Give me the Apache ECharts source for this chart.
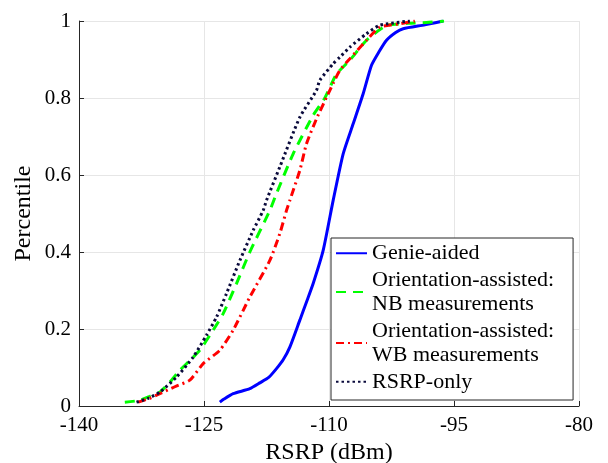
<!DOCTYPE html>
<html>
<head>
<meta charset="utf-8">
<script src="https://cdn.jsdelivr.net/npm/echarts@6/dist/echarts.min.js"></script>
<style>
  html, body { margin: 0; padding: 0; background: #fff; }
  #chart_1 { width: 608px; height: 463px; }
</style>
</head>
<body>
<div id="chart_1"></div>
<script>
//*************************************************************************************************data
// series names (legend)
var names = ['Genie-aided', 'Orientation-assisted: NB measurements', 'Orientation-assisted: WB measurements', 'RSRP-only'];
var legend_text = ['Genie-aided', 'Orientation-assisted:\nNB measurements', 'Orientation-assisted:\nWB measurements', 'RSRP-only'];

// x ticks
var x_ticks = [-140, -125, -110, -95, -80];

// genie-aided (RSRP dBm, percentile)
var genie_x = [-123.1, -122.6, -121.5, -119.5, -118.3, -117.2, -116.3, -115.5, -114.7, -113.5, -112.7, -111.9, -110.7, -109.5, -108.3, -107.1, -105.9, -104.9, -104.0, -103.1, -102.0, -101.1, -98.5, -96.3];
var genie_y = [0.01, 0.018, 0.032, 0.045, 0.06, 0.075, 0.097, 0.12, 0.153, 0.223, 0.27, 0.318, 0.404, 0.534, 0.655, 0.733, 0.811, 0.885, 0.92, 0.95, 0.97, 0.98, 0.99, 1.0];

// orientation-assisted NB
var nb_x = [-134.5, -132.9, -131.5, -130.3, -129.1, -127.9, -126.7, -125.5, -123.9, -122.7, -121.1, -119.5, -117.1, -116.3, -114.3, -111.9, -110.5, -109.1, -107.5, -105.5, -103.1, -100.5, -98.3, -96.2];
var nb_y = [0.01, 0.014, 0.025, 0.036, 0.062, 0.093, 0.118, 0.145, 0.197, 0.24, 0.318, 0.4, 0.508, 0.552, 0.655, 0.755, 0.8, 0.862, 0.898, 0.95, 0.988, 0.994, 0.996, 1.0];

// orientation-assisted WB
var wb_x = [-132.9, -131.5, -130.3, -128.5, -126.7, -125.1, -123.1, -121.5, -119.5, -117.1, -115.9, -115.1, -114.7, -113.5, -112.7, -111.5, -109.9, -109.5, -108.7, -107.5, -105.5, -103.9, -101.5, -99.7];
var wb_y = [0.01, 0.02, 0.032, 0.05, 0.067, 0.11, 0.145, 0.197, 0.283, 0.378, 0.448, 0.508, 0.534, 0.612, 0.681, 0.746, 0.82, 0.838, 0.872, 0.902, 0.95, 0.984, 0.993, 1.0];

// RSRP-only
var rsrp_x = [-133.1, -131.7, -130.3, -128.3, -126.3, -124.7, -123.5, -122.3, -120.7, -119.1, -117.9, -117.5, -115.9, -113.5, -111.5, -111.1, -109.5, -108.7, -107.5, -105.5, -103.9, -100.3];
var rsrp_y = [0.01, 0.02, 0.036, 0.075, 0.127, 0.184, 0.231, 0.292, 0.378, 0.456, 0.508, 0.534, 0.621, 0.75, 0.82, 0.846, 0.889, 0.906, 0.932, 0.967, 0.989, 1.0];

//*************************************************************************************************draw
var font = '"Liberation Serif", "Times New Roman", serif';
var axis_color = '#262626';
var grid_color = '#e6e6e6';

function pairs(xs, ys) {
    var out = [];
    for (var i = 0; i < xs.length; i++) {
        out.push([xs[i], ys[i]]);
    }
    return out;
}

function make_series(name, xs, ys, color, dash) {
    return {
        name: name,
        type: 'line',
        symbol: 'none',
        smooth: 0.2,
        data: pairs(xs, ys),
        lineStyle: { color: color, width: 3, type: dash, cap: 'butt' },
        itemStyle: { color: color }
    };
}

var chart_1 = echarts.init(document.getElementById('chart_1'));

var option = {
    animation: false,
    backgroundColor: '#fff',
    grid: { left: 79, right: 29, top: 21, bottom: 57, outerBoundsMode: 'none' },
    xAxis: {
        type: 'value',
        min: x_ticks[0],
        max: x_ticks[x_ticks.length - 1],
        interval: x_ticks[1] - x_ticks[0],
        name: 'RSRP (dBm)',
        nameLocation: 'middle',
        nameGap: 35,
        nameMoveOverlap: false,
        nameTextStyle: { fontFamily: font, fontSize: 24, color: '#000' },
        axisLine: { lineStyle: { color: axis_color, width: 1 } },
        axisTick: { inside: true, length: 5, lineStyle: { color: axis_color } },
        axisLabel: { fontFamily: font, fontSize: 21, color: '#000', margin: 9 },
        splitLine: { show: true, lineStyle: { color: grid_color, width: 1 } }
    },
    yAxis: {
        type: 'value',
        min: 0,
        max: 1,
        interval: 0.2,
        name: 'Percentile',
        nameLocation: 'middle',
        nameGap: 43,
        nameMoveOverlap: false,
        nameTextStyle: { fontFamily: font, fontSize: 24, color: '#000' },
        axisLine: { show: true, lineStyle: { color: axis_color, width: 1 } },
        axisTick: { show: true, inside: true, length: 5, lineStyle: { color: axis_color } },
        axisLabel: { fontFamily: font, fontSize: 21, color: '#000', margin: 8 },
        splitLine: { show: true, lineStyle: { color: grid_color, width: 1 } }
    },
    legend: {
        data: names,
        orient: 'vertical',
        left: 331,
        top: 238,
        itemWidth: 31,
        itemHeight: 12,
        itemGap: 2,
        padding: [3, 19, 6, 4],
        borderColor: axis_color,
        borderWidth: 1,
        backgroundColor: '#fff',
        itemStyle: { opacity: 0 },
        textStyle: { fontFamily: font, fontSize: 22, lineHeight: 24.5, color: '#000' },
        formatter: function (name) {
            return legend_text[names.indexOf(name)];
        }
    },
    series: [
        make_series(names[0], genie_x, genie_y, '#0000ff', 'solid'),
        make_series(names[1], nb_x, nb_y, '#00ff00', [10, 7]),
        make_series(names[2], wb_x, wb_y, '#ff0000', [8, 4, 2, 4]),
        make_series(names[3], rsrp_x, rsrp_y, '#0a0a3c', [2.5, 3])
    ]
};

chart_1.setOption(option);
</script>
</body>
</html>
